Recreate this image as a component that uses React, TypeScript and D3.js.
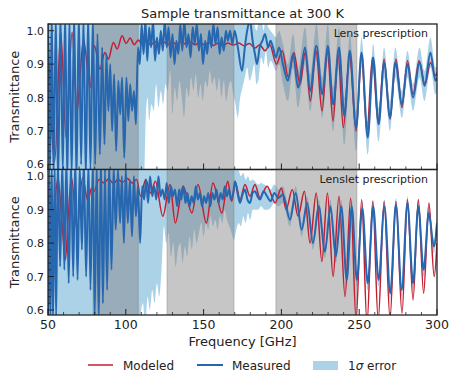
import React from "react";
import * as d3 from "d3";

type P = [number, number];
type B = [number, number, number];

const title = "Sample transmittance at 300 K";
const xLabel = "Frequency [GHz]";
const yLabel = "Transmittance";
const panelNames = ["Lens prescription", "Lenslet prescription"];
const freqTicks = [50, 100, 150, 200, 250, 300];
const freqMinor = [60, 70, 80, 90, 110, 120, 130, 140, 160, 170, 180, 190, 210, 220, 230, 240, 260, 270, 280, 290];
const yTicks = [0.6, 0.7, 0.8, 0.9, 1.0];
const yMinor = [0.62, 0.64, 0.66, 0.68, 0.72, 0.74, 0.76, 0.78, 0.82, 0.84, 0.86, 0.88, 0.92, 0.94, 0.96, 0.98, 1.02];
const grayBands: [number, number][] = [[79, 108], [126.5, 169.5], [196.5, 248.5]];

const lensModeled: P[] = [[50,0.995],[54.3,0.61],[58.2,0.995],[61.6,0.68],[65.5,0.995],[68.7,0.76],[70.4,0.85],[72.8,0.975],[77,0.83],[79.8,0.955],[83.4,0.885],[86.5,0.935],[88.8,0.915],[92,0.965],[94.5,0.945],[97.6,0.985],[100.2,0.962],[102.8,0.978],[105.4,0.958],[108,0.972],[110.5,0.96],[113.2,0.97],[116,0.957],[118.8,0.968],[121.5,0.96],[124.3,0.967],[127,0.958],[129.8,0.966],[132.5,0.96],[135.5,0.967],[138.5,0.96],[141.5,0.966],[144.5,0.958],[147.5,0.965],[150.5,0.958],[153.5,0.964],[156.5,0.956],[159.5,0.963],[162.5,0.955],[165.5,0.963],[169,0.957],[172.5,0.963],[176,0.955],[179.5,0.962],[183,0.948],[186,0.958],[189.5,0.94],[192.5,0.958],[196.8,0.9],[200.5,0.94],[204.5,0.86],[208,0.935],[212,0.84],[215.3,0.935],[218.6,0.79],[222.2,0.94],[226.1,0.76],[229.6,0.935],[233.2,0.73],[236.4,0.93],[239.8,0.71],[243.8,0.925],[248,0.7],[251.5,0.92],[255,0.7],[258.5,0.92],[262.2,0.725],[266,0.915],[269.8,0.735],[273.6,0.915],[277.5,0.77],[281,0.91],[284.6,0.81],[288.5,0.91],[292.3,0.84],[295.8,0.905],[299,0.865],[300,0.875]];

const lensMeasured: P[] = [[50,1.05],[51.2,0.55],[52.4,1.05],[53.6,0.56],[55,1.04],[56.5,0.54],[58,1.05],[59.5,0.58],[61,1.05],[62.4,0.55],[63.8,1.04],[65.2,0.57],[66.8,1.05],[68.3,0.55],[69.8,1.05],[71.3,0.6],[72.8,1.04],[74.3,0.56],[75.8,1.05],[77.3,0.58],[78.8,1.04],[80.3,0.6],[81.8,0.99],[83.3,0.63],[84.8,0.95],[86.3,0.66],[87.5,0.93],[88.8,0.76],[90,0.9],[91.2,0.7],[92.5,0.87],[93.8,0.64],[95.2,0.85],[96.4,0.75],[97.6,0.86],[99,0.62],[100.4,0.86],[101.6,0.73],[102.8,0.84],[104,0.76],[105.3,0.82],[106.5,0.72],[107.8,0.95],[109,0.9],[110.2,1.02],[111.4,0.93],[112.6,1.03],[113.8,0.91],[115,1.01],[116.3,0.95],[117.5,1.03],[118.8,0.91],[120,0.98],[121.3,0.93],[122.5,1.0],[123.8,0.94],[125,1.03],[126.3,0.95],[127.5,1.01],[128.8,0.92],[130,0.99],[131.3,0.9],[132.5,0.97],[133.8,0.93],[135,1.02],[136.3,0.94],[137.6,1.03],[139,0.95],[140.3,0.99],[141.6,0.92],[143,1.01],[144.3,0.96],[145.6,1.02],[147,0.94],[148.3,0.99],[149.6,0.9],[151,0.97],[152.3,0.93],[153.6,1.0],[155,0.95],[156.3,1.02],[157.6,0.96],[159,1.01],[160.3,0.93],[161.6,0.98],[163,0.94],[164.3,1.0],[165.6,0.97],[167,1.0],[168.5,0.96],[170,1.0],[172,0.95],[174.7,0.88],[176.5,0.95],[178,1.0],[179.8,1.03],[181.5,0.97],[183,0.93],[184.3,0.9],[186,0.95],[187.8,0.97],[189.5,0.99],[191.5,0.95],[193,0.97],[194.6,0.95],[196.5,0.92],[198.5,0.95],[201,0.9],[204.2,0.85],[207.5,0.93],[210.7,0.83],[215.2,0.95],[218.5,0.82],[222.5,0.955],[226.3,0.81],[229.8,0.955],[233.3,0.78],[237,0.95],[240.5,0.745],[244,0.94],[248,0.71],[251.5,0.935],[255.5,0.68],[259,0.92],[262.5,0.72],[266,0.905],[269.8,0.74],[273.2,0.905],[277.5,0.78],[281,0.9],[284.6,0.8],[288.8,0.905],[292,0.835],[295.8,0.935],[299,0.85],[300,0.86]];

const lensBand: B[] = [[50,0.5,1.1],[111.5,0.5,1.1],[112.8,0.74,1.1],[114,0.8,1.1],[115,0.73,1.1],[116.5,0.78,1.1],[118,0.76,1.1],[119.5,0.84,1.1],[121,0.77,1.1],[122.5,0.82,1.1],[124,0.78,1.1],[125.5,0.84,1.1],[127,0.82,1.1],[128.5,0.88,1.1],[130,0.75,1.1],[131.5,0.83,1.1],[133,0.79,1.1],[134.5,0.85,1.1],[136,0.8,1.1],[137.5,0.74,1.1],[139,0.83,1.1],[140.5,0.8,1.1],[142,0.86,1.1],[143.5,0.82,1.1],[145,0.87,1.1],[146.5,0.8,1.1],[148,0.84,1.1],[149.5,0.79,1.1],[151,0.85,1.1],[152.5,0.83,1.1],[154,0.88,1.1],[155.5,0.84,1.1],[157,0.86,1.1],[158.5,0.82,1.1],[160,0.86,1.1],[161.5,0.8,1.1],[163,0.85,1.1],[164.5,0.79,1.1],[166,0.83,1.1],[167.5,0.85,1.1],[169,0.81,1.06],[170.5,0.78,1.1],[172,0.74,1.03],[173.5,0.8,1.1],[175,0.83,1.04],[176.5,0.86,1.1],[178,0.89,1.1],[179.5,0.85,1.1],[181,0.87,1.05],[182.5,0.9,1.02],[184,0.84,1.0],[185.5,0.86,1.03],[187,0.92,1.05],[188.5,0.9,1.0],[190,0.94,1.04],[191.5,0.89,1.01],[193,0.91,1.0],[194.6,0.9,0.99],[196.5,0.88,0.98],[198.5,0.9,1.0],[201,0.84,0.96],[204.2,0.79,0.9],[207.5,0.89,0.99],[210.7,0.77,0.88],[215.2,0.9,1.01],[218.5,0.76,0.87],[222.5,0.91,1.02],[226.3,0.74,0.86],[229.8,0.91,1.02],[233.3,0.7,0.83],[237,0.9,1.01],[240.5,0.66,0.8],[244,0.89,0.99],[248,0.64,0.76],[251.5,0.89,0.98],[255.5,0.63,0.73],[259,0.87,0.96],[262.5,0.67,0.77],[266,0.86,0.95],[269.8,0.7,0.79],[273.2,0.86,0.95],[277.5,0.74,0.82],[281,0.86,0.94],[284.6,0.76,0.84],[288.8,0.86,0.95],[292,0.79,0.88],[295.8,0.89,0.98],[299,0.81,0.89],[300,0.82,0.9]];

const lensletModeled: P[] = [[50,0.6],[52,0.68],[54.3,0.9],[56.4,0.995],[58.7,0.88],[61.2,0.75],[63,0.88],[65.1,0.995],[68.6,0.84],[72.2,0.995],[75.7,0.925],[78,0.965],[79.6,0.955],[82.8,0.99],[86,0.98],[89,0.992],[92,0.978],[95,0.99],[98,0.982],[101,0.993],[104,0.98],[107,0.99],[109.5,0.94],[112.8,0.99],[116,0.95],[119,0.985],[123.8,0.88],[128.4,0.975],[131.8,0.86],[136.8,0.97],[142.5,0.89],[146.4,0.975],[151.8,0.86],[156,0.98],[161.8,0.89],[165.5,0.985],[168,0.925],[170.5,0.98],[173.4,0.93],[176.6,0.975],[179.8,0.94],[183,0.975],[186.2,0.935],[190.8,0.97],[196,0.92],[200,0.965],[203,0.9],[207,0.96],[210.7,0.88],[214.8,0.955],[218.4,0.8],[222.4,0.95],[226,0.745],[229.6,0.95],[233.2,0.7],[237,0.94],[240.9,0.64],[244.5,0.935],[248,0.57],[251.6,0.93],[255,0.56],[258.7,0.925],[262.2,0.57],[266,0.925],[269.8,0.575],[273.6,0.925],[277.5,0.59],[281,0.93],[284.6,0.63],[288,0.93],[291.4,0.65],[294.8,0.92],[298.2,0.7],[300,0.8]];

const lensletMeasured: P[] = [[50,0.55],[50.8,1.05],[51.6,0.55],[52.4,1.05],[53.2,0.56],[54.3,1.04],[55.2,0.57],[56.3,1.05],[57.8,0.73],[59.2,1.04],[60.5,0.72],[61.8,1.05],[63.3,0.68],[64.8,1.04],[66.2,0.7],[67.5,1.05],[69,0.69],[70.4,1.03],[71.8,0.78],[73,1.05],[74.5,0.7],[76,1.04],[77.3,0.66],[78.8,1.05],[80,0.58],[81.3,1.04],[82.6,0.57],[84,1.05],[85.3,0.62],[86.6,1.02],[88,0.66],[89.3,1.04],[90.8,0.72],[92.2,1.03],[93.5,0.84],[95,1.02],[96.3,0.86],[97.5,1.0],[98.8,0.8],[100,1.02],[101.3,0.86],[102.6,0.99],[104,0.82],[105.2,1.0],[106.5,0.88],[107.8,0.97],[109.2,0.8],[110.5,0.97],[111.8,0.93],[113,0.99],[114.3,0.92],[115.6,1.0],[117,0.94],[118.3,0.97],[119.6,0.93],[121,1.0],[122.3,0.94],[123.6,0.96],[125,0.93],[126.3,0.98],[127.6,0.92],[129,0.97],[130.3,0.94],[131.6,0.96],[133,0.91],[134.3,0.96],[135.6,0.93],[137,0.97],[138.3,0.92],[139.6,0.95],[141,0.91],[142.3,0.94],[143.6,0.92],[145,0.97],[146.3,0.93],[147.6,0.95],[149,0.91],[150.3,0.94],[151.6,0.92],[153,0.95],[154.3,0.91],[155.6,0.95],[157,0.93],[158.3,0.96],[159.6,0.92],[161,0.95],[162.3,0.93],[163.6,0.97],[165,0.94],[166.3,0.96],[167.6,0.93],[169,0.95],[170.2,0.985],[171.8,0.95],[173.4,0.92],[175,0.945],[176.6,0.96],[178.2,0.93],[179.8,0.92],[181.5,0.95],[183,0.955],[184.6,0.94],[186.2,0.93],[188.5,0.955],[190.8,0.94],[193,0.925],[195.5,0.95],[198,0.935],[201,0.945],[205.5,0.87],[209.2,0.95],[213,0.84],[216.6,0.92],[220.3,0.8],[224,0.91],[228,0.775],[231.5,0.91],[235,0.76],[238.5,0.91],[242,0.69],[245.2,0.91],[248.5,0.69],[252,0.905],[255.5,0.68],[259,0.91],[262.5,0.69],[266.2,0.91],[270,0.65],[273.6,0.915],[277.3,0.66],[281,0.92],[284.6,0.68],[288,0.91],[291.4,0.72],[294.7,0.89],[298,0.79],[300,0.86]];

const lensletBand: B[] = [[50,0.5,1.1],[108.5,0.5,1.1],[109.5,0.58,1.1],[111,0.62,1.1],[112.5,0.55,1.1],[114,0.64,1.1],[115.5,0.6,1.1],[117,0.66,1.1],[118.5,0.62,1.1],[120,0.68,1.1],[121.5,0.64,1.1],[123,0.72,1.1],[124.5,0.85,1.1],[126,0.8,1.1],[127.5,0.83,1.1],[129,0.76,1.1],[130.5,0.8,1.1],[132,0.73,1.1],[133.5,0.78,1.1],[135,0.8,1.1],[136.5,0.74,1.1],[138,0.79,1.1],[139.5,0.76,1.1],[141,0.82,1.1],[142.5,0.78,1.1],[144,0.84,1.1],[145.5,0.8,1.1],[147,0.83,1.1],[148.5,0.86,1.1],[150,0.82,1.1],[151.5,0.86,1.1],[153,0.84,1.1],[154.5,0.88,1.1],[156,0.85,1.1],[157.5,0.87,1.1],[159,0.84,1.1],[160.5,0.88,1.1],[162,0.86,1.1],[163.5,0.9,1.1],[165,0.87,1.1],[166.5,0.85,1.1],[168,0.83,1.06],[169.5,0.81,1.03],[171,0.84,1.05],[172.5,0.86,1.02],[174,0.85,1.0],[175.5,0.88,1.01],[177,0.86,0.99],[178.5,0.89,1.0],[180,0.87,0.985],[181.5,0.9,0.99],[183,0.9,0.985],[185,0.9,0.975],[187,0.91,0.98],[189,0.9,0.975],[191,0.9,0.97],[193,0.905,0.96],[195.5,0.92,0.975],[198,0.91,0.96],[201,0.92,0.97],[205.5,0.85,0.89],[209.2,0.93,0.97],[213,0.82,0.86],[216.6,0.9,0.94],[220.3,0.78,0.82],[224,0.89,0.93],[228,0.755,0.795],[231.5,0.89,0.93],[235,0.74,0.78],[238.5,0.89,0.93],[242,0.67,0.71],[245.2,0.89,0.93],[248.5,0.67,0.71],[252,0.885,0.925],[255.5,0.66,0.7],[259,0.89,0.93],[262.5,0.67,0.71],[266.2,0.89,0.93],[270,0.63,0.67],[273.6,0.895,0.935],[277.3,0.64,0.68],[281,0.9,0.94],[284.6,0.66,0.7],[288,0.89,0.93],[291.4,0.7,0.74],[294.7,0.87,0.91],[298,0.77,0.81],[300,0.84,0.88]];

const RED = "#c21f33";
const BLUE = "#2767b0";
const LIGHT = "#abd2e7";
const INK = "#222";
const FONT = "DejaVu Sans, sans-serif";

const X0 = 48, X1 = 437;
const panels = [
  { top: 24, bottom: 169.5, model: lensModeled, meas: lensMeasured, band: lensBand },
  { top: 169.5, bottom: 315, model: lensletModeled, meas: lensletMeasured, band: lensletBand },
];

export default function App() {
  const x = d3.scaleLinear().domain([50, 300]).range([X0, X1]);
  return (
    <svg width={457} height={385} style={{ position: "absolute", left: 0, top: 0, background: "#fff" }} fontFamily={FONT}>
      <text x={(X0 + X1) / 2} y={18} textAnchor="middle" fontSize={13} fill={INK}>{title}</text>
      {panels.map((p, i) => {
        const y = d3.scaleLinear().domain([0.585, 1.02]).range([p.bottom, p.top]);
        const line = d3.line<P>().x(d => x(d[0])).y(d => y(d[1])).curve(d3.curveMonotoneX);
        const area = d3.area<B>().x(d => x(d[0])).y0(d => y(d[1])).y1(d => y(d[2])).curve(d3.curveMonotoneX);
        const cid = `clip-${i}`;
        return (
          <g key={i}>
            <defs>
              <clipPath id={cid}>
                <rect x={X0} y={p.top} width={X1 - X0} height={p.bottom - p.top} />
              </clipPath>
            </defs>
            <g clipPath={`url(#${cid})`}>
              <path d={area(p.band) || ""} fill={LIGHT} stroke="none" />
              {grayBands.map((b, j) => (
                <rect key={j} x={x(b[0])} y={p.top} width={x(b[1]) - x(b[0])} height={p.bottom - p.top}
                  fill="#808080" fillOpacity={0.45} stroke="#808080" strokeOpacity={0.45} strokeWidth={1} />
              ))}
              <path d={line(p.model) || ""} fill="none" stroke={RED} strokeWidth={1.5} strokeLinejoin="round" />
              <path d={line(p.meas) || ""} fill="none" stroke={BLUE} strokeWidth={2} strokeLinejoin="round" />
            </g>
            {yTicks.map(t => (
              <g key={`yt${t}`}>
                <line x1={X0} x2={X0 + 6} y1={y(t)} y2={y(t)} stroke={INK} strokeWidth={1} />
                <text x={X0 - 4} y={y(t) + 4} textAnchor="end" fontSize={11} fill={INK}>{t.toFixed(1)}</text>
              </g>
            ))}
            {yMinor.map(t => (
              <line key={`ym${t}`} x1={X0} x2={X0 + 3} y1={y(t)} y2={y(t)} stroke={INK} strokeWidth={0.8} />
            ))}
            {freqTicks.map(t => (
              <line key={`xt${t}`} x1={x(t)} x2={x(t)} y1={p.bottom} y2={p.bottom - 6} stroke={INK} strokeWidth={1} />
            ))}
            {freqMinor.map(t => (
              <line key={`xm${t}`} x1={x(t)} x2={x(t)} y1={p.bottom} y2={p.bottom - 3} stroke={INK} strokeWidth={0.8} />
            ))}
            <rect x={X0} y={p.top} width={X1 - X0} height={p.bottom - p.top} fill="none" stroke={INK} strokeWidth={1.3} />
            <text x={428} y={p.top + 13} textAnchor="end" fontSize={11} fill={INK}>{panelNames[i]}</text>
            <text transform={`translate(18.5,${(p.top + p.bottom) / 2}) rotate(-90)`} textAnchor="middle" fontSize={13} fill={INK}>{yLabel}</text>
          </g>
        );
      })}
      {freqTicks.map(t => (
        <text key={`xl${t}`} x={x(t)} y={329} textAnchor="middle" fontSize={12.5} fill={INK}>{t}</text>
      ))}
      <text x={(X0 + X1) / 2} y={346} textAnchor="middle" fontSize={13} fill={INK}>{xLabel}</text>
      <g fontSize={12} fill={INK}>
        <line x1={88} x2={113} y1={365} y2={365} stroke={RED} strokeWidth={1.5} />
        <text x={123} y={369.5}>Modeled</text>
        <line x1={197} x2={223} y1={365} y2={365} stroke={BLUE} strokeWidth={2} />
        <text x={232} y={369.5}>Measured</text>
        <rect x={313} y={361} width={25} height={9} fill={LIGHT} />
        <text x={348} y={369.5}>1<tspan fontStyle="italic">σ</tspan> error</text>
      </g>
    </svg>
  );
}
